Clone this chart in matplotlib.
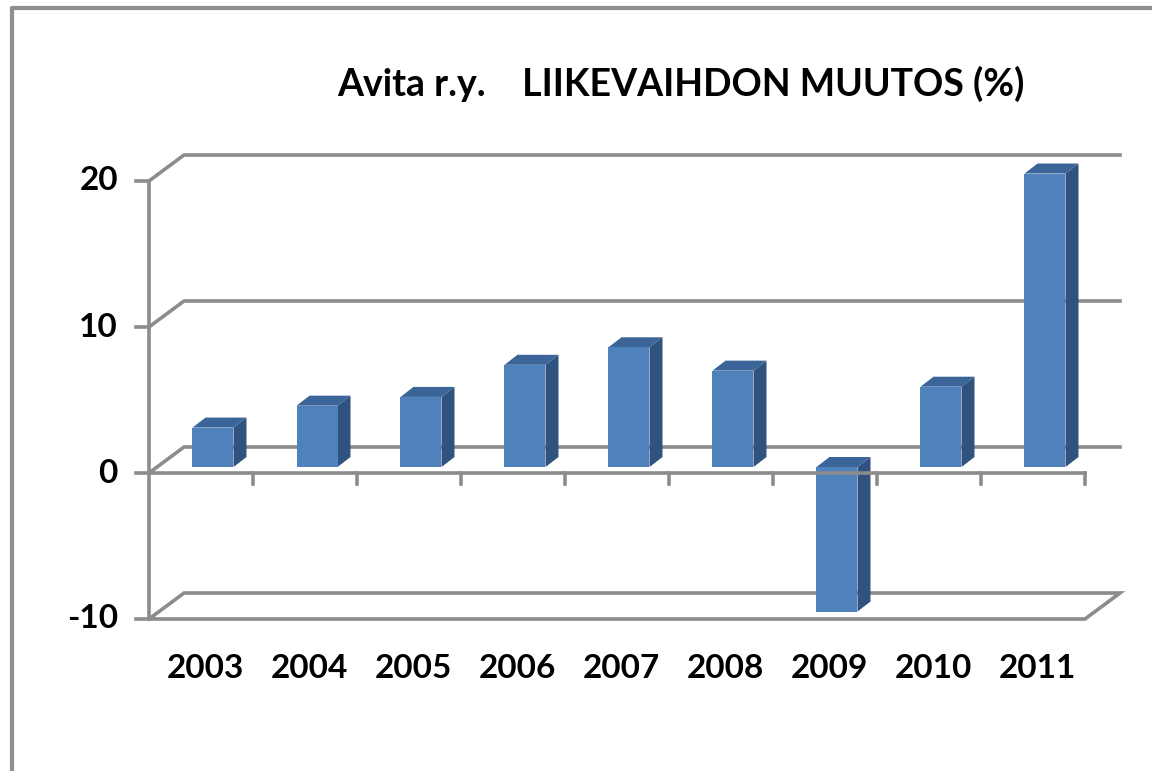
import matplotlib
matplotlib.use("Agg")
import matplotlib.pyplot as plt
from matplotlib.patches import Polygon, Rectangle

# ---- data ----
years = ["2003", "2004", "2005", "2006", "2007", "2008", "2009", "2010", "2011"]
values = [2.7, 4.2, 4.8, 7.0, 8.2, 6.6, -9.9, 5.5, 20.1]
y_ticks = [-10, 0, 10, 20]
title = "Avita r.y.    LIIKEVAIHDON MUUTOS (%)"

# ---- layout (pixel geometry of the pseudo-3D frame) ----
W, H = 1152, 771
X0_PX, CW_PX = 149.0, 104.0       # left edge of category 0, px per category
Y0_PX, PU_PX = 473.0, 14.6        # y pixel of value 0, px per unit
DX = 35 / CW_PX                   # depth offset in category units
DY = 26 / PU_PX                   # depth offset in value units
BAR_W = 41 / CW_PX
BAR_SX, BAR_SY = 12 / CW_PX, 6 / PU_PX      # shift of bar front face
BAR_DX, BAR_DY = 13 / CW_PX, 10 / PU_PX     # bar depth

GRID = "#8c8c8c"
FRONT = "#4f81bd"
SIDE = "#30527f"
TOP = "#3b6599"
FONT = ["Lato", "DejaVu Sans"]

fig = plt.figure(figsize=(W / 100, H / 100), dpi=100)
ax = fig.add_axes([0, 0, 1, 1])
ax.set_xlim((0 - X0_PX) / CW_PX, (W - X0_PX) / CW_PX)
ax.set_ylim((Y0_PX - H) / PU_PX, Y0_PX / PU_PX)
ax.axis("off")

n = len(years)
ymin, ymax = min(y_ticks), max(y_ticks)
lw = 2.6

# outer chart border (left and top)
bx = (12 - X0_PX) / CW_PX
by = (Y0_PX - 8) / PU_PX
ax.plot([bx, bx, (W + 5 - X0_PX) / CW_PX], [(Y0_PX - H - 5) / PU_PX, by, by],
        color="#8f8f8f", lw=3, solid_capstyle="butt", zorder=1)

# back gridlines with diagonal on side wall
for t in y_ticks:
    if t == ymin:
        continue
    ax.plot([0, DX, n + DX], [t, t + DY, t + DY], color=GRID, lw=lw, zorder=2)

# floor parallelogram
ax.plot([0, DX, n + DX, n, 0], [ymin, ymin + DY, ymin + DY, ymin, ymin],
        color=GRID, lw=lw, zorder=2, solid_joinstyle="miter")

# bars
for i, v in enumerate(values):
    c = i + 0.5 + BAR_SX
    xl, xr = c - BAR_W / 2, c + BAR_W / 2
    lo, hi = BAR_SY + min(v, 0), BAR_SY + max(v, 0)
    ax.add_patch(Polygon([(xr, lo), (xr, hi), (xr + BAR_DX, hi + BAR_DY), (xr + BAR_DX, lo + BAR_DY)],
                         closed=True, facecolor=SIDE, edgecolor="none", zorder=4))
    ax.add_patch(Polygon([(xl, hi), (xr, hi), (xr + BAR_DX, hi + BAR_DY), (xl + BAR_DX, hi + BAR_DY)],
                         closed=True, facecolor=TOP, edgecolor="none", zorder=4))
    ax.add_patch(Rectangle((xl, lo), BAR_W, hi - lo, facecolor=FRONT, edgecolor="none", zorder=5))

# front horizontal axis at 0 with tick marks
ax.plot([0, n], [0, 0], color=GRID, lw=lw, zorder=6)
tick_len_x = 11 / PU_PX
for k in range(1, n + 1):
    ax.plot([k, k], [0, -tick_len_x], color=GRID, lw=lw, zorder=6)

# front vertical axis with ticks
ax.plot([0, 0], [ymin, ymax], color=GRID, lw=lw, zorder=6)
tick_len_y = 13 / CW_PX
for t in y_ticks:
    ax.plot([-tick_len_y, 0], [t, t], color=GRID, lw=lw, zorder=6)
    ax.text(-31 / CW_PX, t, f"{t}", ha="right", va="center", fontsize=24,
            fontweight="bold", family=FONT, color="black")

# category labels
for i, yl in enumerate(years):
    ax.text(i + 0.5 + 4 / CW_PX, ymin - 50 / PU_PX, yl, ha="center", va="center",
            fontsize=24, fontweight="bold", family=FONT, color="black")

# title
ax.text((681 - X0_PX) / CW_PX, (Y0_PX - 84) / PU_PX, title, ha="center", va="center",
        fontsize=27, fontweight="bold", family=FONT, color="black")

fig.savefig("out.png", dpi=100)
